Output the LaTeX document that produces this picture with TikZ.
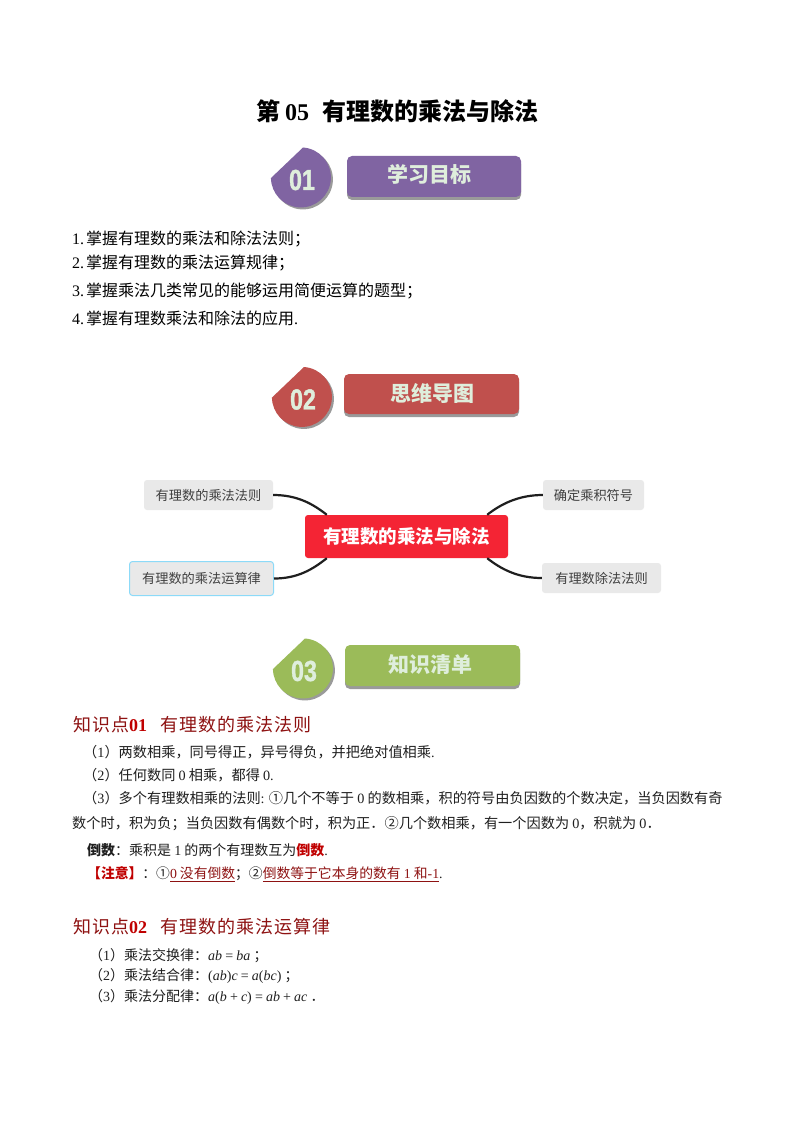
\documentclass[tikz,border=0pt]{standalone}
\usepackage{fontspec}
\usetikzlibrary{calc}
\setmainfont{Noto Sans CJK SC}
\newfontfamily\lat{Liberation Serif}
\newfontfamily\badgefont[BoldFeatures={FakeBold=1.5}]{Liberation Sans}
\newfontfamily\headfont[LetterSpace=5.5]{Noto Sans CJK SC}
\newcommand{\fs}[1]{\fontsize{#1}{#1}\selectfont}
\newcommand{\ltn}[1]{{\lat #1}}
\newcommand{\mi}[1]{{\lat\itshape #1}}
\definecolor{cpurple}{HTML}{8064A2}
\definecolor{cred}{HTML}{C0504D}
\definecolor{cgreen}{HTML}{9BBB59}
\definecolor{cshadow}{HTML}{9A9A9A}
\definecolor{cpale}{HTML}{DFEEDC}
\definecolor{chub}{HTML}{F42434}
\definecolor{cleaf}{HTML}{E9E9E9}
\definecolor{cink}{HTML}{1F1F1F}
\definecolor{cleaftext}{HTML}{404040}
\definecolor{dred}{HTML}{8E1212}
\definecolor{bred}{HTML}{C00000}
\tikzset{
 bodyline/.style={anchor=west,inner sep=0pt,font=\fs{14},text=cink},
 bodywide/.style={bodyline,font=\fs{14.2}},
 goalline/.style={anchor=west,inner sep=0pt,font=\fs{16},text=black},
 sechead/.style={anchor=west,inner sep=0pt,font=\fs{18}\headfont,text=dred},
 bannertext/.style={inner sep=0pt,font=\fs{21}\bfseries,text=cpale},
 badgetext/.style={inner sep=0pt,font=\fs{29}\badgefont\bfseries,text=cpale,xscale=.8},
 leaf/.style={draw=none,fill=cleaf,rounded corners=3pt,inner sep=0pt,font=\fs{13.2},text=cleaftext},
 link/.style={draw=cink,line width=2.2pt}
}
\newcommand{\badge}[4]{% x y colour digits  (x,y = circle centre)
 \fill[cshadow,shift={(#1+2,#2+2)}] (-30,0.5) -- (2,-30) arc[start angle=-86,end angle=179,radius=30] -- cycle;
 \fill[#3,shift={(#1,#2)}] (-30,0.5) -- (2,-30) arc[start angle=-86,end angle=179,radius=30] -- cycle;
 \node[badgetext] (#4) at (#1+1,#2+2.5) {#4};
}
\newcommand{\banner}[8]{% name x0 y0 x1 y1 colour text text-position
 \fill[cshadow,rounded corners=5pt] (#2,#3+3) rectangle (#4,#5+3);
 \fill[#6,rounded corners=5pt] (#2,#3) rectangle (#4,#5);
 \node[bannertext] (#1) at (#8) {#7};
}
\begin{document}
\begin{tikzpicture}[x=1pt,y=-1pt]
\useasboundingbox (0,0) rectangle (794,1123);
\fill[white] (0,0) rectangle (794,1123);
\node[anchor=west,inner sep=0pt,font=\fs{24}\bfseries,text=black] (title) at (256,111) {第\hspace{5pt}{\lat\bfseries 05}\hspace{13pt}有理数的乘法与除法};

\badge{301}{177.5}{cpurple}{01}
\banner{b1}{347}{156}{521}{197}{cpurple}{学习目标}{429,174}

\node[goalline] (g1) at (72,239) {\ltn{1.}\hspace{2pt}掌握有理数的乘法和除法法则；};
\node[goalline] (g2) at (72,263) {\ltn{2.}\hspace{2pt}掌握有理数的乘法运算规律；};
\node[goalline] (g3) at (72,291) {\ltn{3.}\hspace{2pt}掌握乘法几类常见的能够运用简便运算的题型；};
\node[goalline] (g4) at (72,318) {\ltn{4.}\hspace{2pt}掌握有理数乘法和除法的应用\ltn{.}};

\badge{302}{397}{cred}{02}
\banner{b2}{344}{374}{519}{414}{cred}{思维导图}{432,393}

\node[fill=chub,rounded corners=3pt,minimum width=203pt,minimum height=43pt,inner sep=0pt,font=\fs{18.5}\bfseries,text=white] (hub) at (406.5,536.5) {有理数的乘法与除法};
\node[leaf,minimum width=129pt,minimum height=30pt] (l1) at (208.5,495) {有理数的乘法法则};
\node[leaf,minimum width=144pt,minimum height=34pt,draw=cyan!45!white,line width=1pt] (l2) at (201.5,578.5) {有理数的乘法运算律};
\node[leaf,minimum width=101pt,minimum height=30pt] (r1) at (593.5,495) {确定乘积符号};
\node[leaf,minimum width=119pt,minimum height=30pt] (r2) at (601.5,578) {有理数除法法则};
\draw[link] (l1.east) .. controls +(24,0) and +(-14,-11) .. ($(hub.north west)+(22,0)$);
\draw[link] (l2.east) .. controls +(24,0) and +(-14,11) .. ($(hub.south west)+(22,0)$);
\draw[link] (r1.west) .. controls +(-24,0) and +(14,-11) .. ($(hub.north east)+(-21,0)$);
\draw[link] (r2.west) .. controls +(-24,0) and +(14,11) .. ($(hub.south east)+(-21,0)$);

\badge{303}{668.5}{cgreen}{03}
\banner{b3}{345}{645}{520}{686}{cgreen}{知识清单}{430,665}

\node[sechead] (h1) at (73,725) {知识点{\lat\bfseries\fontsize{18}{18}\selectfont\color{bred}01}\hspace{13pt}有理数的乘法法则};
\node[bodywide] (a1) at (83,752) {（\ltn{1}）两数相乘，同号得正，异号得负，并把绝对值相乘\ltn{.}};
\node[bodywide] (a2) at (83,775) {（\ltn{2}）任何数同 \ltn{0} 相乘，都得 \ltn{0.}};
\node[bodywide] (a3) at (83,798) {（\ltn{3}）多个有理数相乘的法则\ltn{:} ①几个不等于 \ltn{0} 的数相乘，积的符号由负因数的个数决定，当负因数有奇};
\node[bodywide] (a4) at (72,824) {数个时，积为负；当负因数有偶数个时，积为正．②几个数相乘，有一个因数为 \ltn{0}，积就为 \ltn{0}．};
\node[bodyline] (a5) at (87,850) {\textbf{倒数}：乘积是 \ltn{1} 的两个有理数互为{\color{bred}\textbf{倒数}}\ltn{.}};
\node[bodyline,font=\fs{13.8}] (a6) at (87,874) {{\color{bred}\textbf{【注意】}}：①{\color{dred}\underline{\ltn{0} 没有倒数}}；②{\color{dred}\underline{倒数等于它本身的数有 \ltn{1} 和\ltn{-1}}}\ltn{.}};

\node[sechead] (h2) at (73,927) {知识点{\lat\bfseries\fontsize{18}{18}\selectfont\color{bred}02}\hspace{13pt}有理数的乘法运算律};
\node[bodyline] (c1) at (89,956) {（\ltn{1}）乘法交换律：\mi{ab} \ltn{=} \mi{ba} ；};
\node[bodyline] (c2) at (89,976) {（\ltn{2}）乘法结合律：\ltn{(}\mi{ab}\ltn{)}\mi{c} \ltn{=} \mi{a}\ltn{(}\mi{bc}\ltn{)} ；};
\node[bodyline] (c3) at (89,997) {（\ltn{3}）乘法分配律：\mi{a}\ltn{(}\mi{b} \ltn{+} \mi{c}\ltn{)} \ltn{=} \mi{ab} \ltn{+} \mi{ac} ．};
\end{tikzpicture}
\end{document}
